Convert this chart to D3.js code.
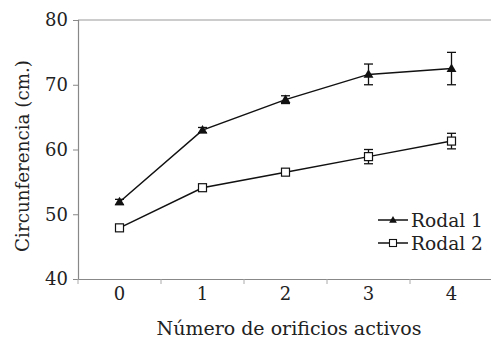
<!DOCTYPE html>
<html>
<head>
<meta charset="utf-8">
<script src="https://cdn.jsdelivr.net/npm/d3@7"></script>
<style>
  body { margin: 0; background: #fff; }
  text { font-family: "DejaVu Serif", "Liberation Serif", serif; fill: #222; }
</style>
</head>
<body>
<script>
const width = 491;
const height = 343;
const margin = { left: 78, right: -2, top: 20, bottom: 64 };

const categories = ["0", "1", "2", "3", "4"];
const rodal1 = [51.9, 63.0, 67.7, 71.6, 72.5];
const rodal1Err = [0.4, 0.4, 0.6, 1.6, 2.5];
const rodal2 = [47.9, 54.1, 56.5, 58.9, 61.3];
const rodal2Err = [0.2, 0.3, 0.3, 1.1, 1.2];
const yTicks = [40, 50, 60, 70, 80];

const svg = d3.select("body")
  .append("svg")
  .attr("width", width)
  .attr("height", height);

const x = d3.scaleBand()
  .domain(categories)
  .range([margin.left, width - margin.right]);

const y = d3.scaleLinear()
  .domain([40, 80])
  .range([height - margin.bottom, margin.top]);

const cx = d => x(d) + x.bandwidth() / 2;

// shrink/grow a text so it spans a given width
function fit(sel, target) {
  const node = sel.node();
  const size = parseFloat(sel.style("font-size"));
  const w = node.getComputedTextLength();
  sel.style("font-size", (size * target / w) + "px");
}

// top border
svg.append("line")
  .attr("x1", margin.left).attr("x2", width)
  .attr("y1", y(80)).attr("y2", y(80))
  .attr("stroke", "#999").attr("stroke-width", 1.2);

// y axis
const yAxis = svg.append("g")
  .attr("transform", `translate(${margin.left},0)`)
  .call(d3.axisLeft(y).tickValues(yTicks).tickSize(5).tickPadding(5));
yAxis.select(".domain").attr("stroke", "#888").attr("stroke-width", 1.2);
yAxis.selectAll(".tick line").attr("stroke", "#888");
yAxis.selectAll("text").style("font-size", "18px").attr("fill", "#222");

// x axis
const xAxis = svg.append("g")
  .attr("transform", `translate(0,${y(40)})`)
  .call(d3.axisBottom(x).tickSize(0).tickPadding(8));
xAxis.select(".domain").attr("stroke", "#888").attr("stroke-width", 1.2);
xAxis.selectAll("text").style("font-size", "18px").attr("fill", "#222");

// x band boundary ticks
svg.selectAll(".xb")
  .data(categories)
  .enter()
  .append("line")
  .attr("x1", d => x(d)).attr("x2", d => x(d))
  .attr("y1", y(40)).attr("y2", y(40) + 5)
  .attr("stroke", "#aaa");

// axis titles
const xTitle = svg.append("text")
  .attr("x", 289).attr("y", 335)
  .attr("text-anchor", "middle")
  .style("font-size", "19px")
  .text("Número de orificios activos");
fit(xTitle, 265);

const yTitle = svg.append("text")
  .attr("transform", "translate(29,156) rotate(-90)")
  .attr("text-anchor", "middle")
  .style("font-size", "18px")
  .text("Circunferencia (cm.)");
fit(yTitle, 192);

const line = d3.line().x((d, i) => cx(categories[i])).y(d => y(d));

function drawSeries(vals, errs, shape) {
  const g = svg.append("g");
  g.append("path")
    .datum(vals)
    .attr("d", line)
    .attr("fill", "none")
    .attr("stroke", "#111")
    .attr("stroke-width", 1.5);
  const eb = g.selectAll(".eb")
    .data(vals)
    .enter()
    .append("g")
    .attr("transform", (d, i) => `translate(${cx(categories[i])},0)`);
  eb.append("line")
    .attr("y1", (d, i) => y(d + errs[i])).attr("y2", (d, i) => y(d - errs[i]))
    .attr("stroke", "#111").attr("stroke-width", 1.3);
  eb.append("line")
    .attr("x1", -4.5).attr("x2", 4.5)
    .attr("y1", (d, i) => y(d + errs[i])).attr("y2", (d, i) => y(d + errs[i]))
    .attr("stroke", "#111").attr("stroke-width", 1.3);
  eb.append("line")
    .attr("x1", -4.5).attr("x2", 4.5)
    .attr("y1", (d, i) => y(d - errs[i])).attr("y2", (d, i) => y(d - errs[i]))
    .attr("stroke", "#111").attr("stroke-width", 1.3);
  if (shape === "triangle") {
    eb.append("path")
      .attr("d", d3.symbol(d3.symbolTriangle, 42))
      .attr("transform", d => `translate(0,${y(d) + 0.5})`)
      .attr("fill", "#111");
  } else {
    eb.append("rect")
      .attr("x", -4).attr("width", 8)
      .attr("y", d => y(d) - 4).attr("height", 8)
      .attr("fill", "#fff").attr("stroke", "#111").attr("stroke-width", 1.2);
  }
}

drawSeries(rodal1, rodal1Err, "triangle");
drawSeries(rodal2, rodal2Err, "square");

// legend
const legend = [
  { name: "Rodal 1", shape: "triangle", yy: 220 },
  { name: "Rodal 2", shape: "square", yy: 243 }
];
legend.forEach(l => {
  const g = svg.append("g").attr("transform", `translate(378,${l.yy})`);
  g.append("line").attr("x1", 0).attr("x2", 30)
    .attr("stroke", "#111").attr("stroke-width", 1.5);
  if (l.shape === "triangle") {
    g.append("path")
      .attr("d", d3.symbol(d3.symbolTriangle, 26))
      .attr("transform", "translate(15,0.5)")
      .attr("fill", "#111");
  } else {
    g.append("rect").attr("x", 11.5).attr("y", -3.5).attr("width", 7).attr("height", 7)
      .attr("fill", "#fff").attr("stroke", "#111").attr("stroke-width", 1.1);
  }
  const t = g.append("text").attr("x", 33).attr("y", 6.5)
    .style("font-size", "18px")
    .text(l.name);
  fit(t, 72);
});
</script>
</body>
</html>
